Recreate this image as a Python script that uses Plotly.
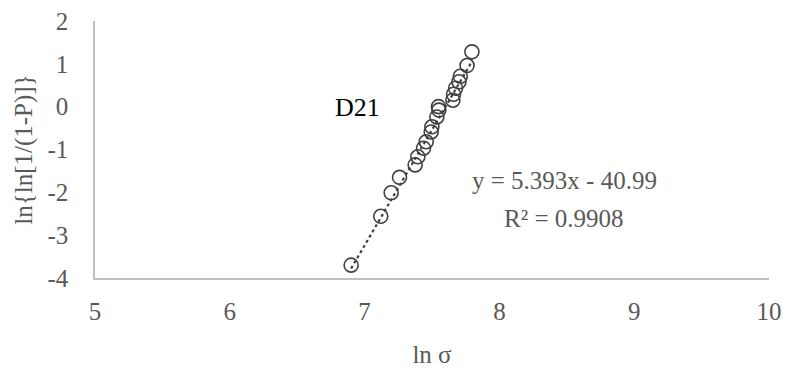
import plotly.graph_objects as go

# Data (ln sigma vs ln{ln[1/(1-P)]})
ln_sigma = [6.90, 7.12, 7.197, 7.259, 7.375, 7.395, 7.437, 7.457, 7.494, 7.499,
            7.536, 7.551, 7.548, 7.655, 7.66, 7.675, 7.70, 7.71, 7.76, 7.796]
ln_ln = [-3.70, -2.56, -2.01, -1.65, -1.36, -1.17, -0.97, -0.82, -0.59, -0.47,
         -0.24, -0.08, 0.0, 0.15, 0.29, 0.43, 0.58, 0.71, 0.96, 1.28]

slope = 5.393
intercept = -40.99
eq_text = "y = 5.393x - 40.99"
r2_text = "R² = 0.9908"
label = "D21"

x_ticks = [5, 6, 7, 8, 9, 10]
x_tick_labels = ["5", "6", "7", "8", "9", "10"]
y_ticks = [-4, -3, -2, -1, 0, 1, 2]
y_tick_labels = ["-4", "-3", "-2", "-1", "0", "1", "2"]

FONT = "Liberation Serif, Times New Roman, serif"
GRAY = "#595959"

x_fit = [min(ln_sigma), max(ln_sigma)]
y_fit = [slope * v + intercept for v in x_fit]

fig = go.Figure()
fig.add_trace(go.Scatter(
    x=x_fit, y=y_fit, mode="lines",
    line=dict(color="#404040", width=2.2, dash="dot"),
    showlegend=False, hoverinfo="skip"))
fig.add_trace(go.Scatter(
    x=ln_sigma, y=ln_ln, mode="markers",
    marker=dict(symbol="circle-open", size=14, color="#404040",
                line=dict(width=1.6, color="#404040")),
    showlegend=False))

fig.add_annotation(x=6.95, y=-0.03, text=label, showarrow=False,
                   font=dict(family=FONT, size=26, color="black"))
fig.add_annotation(x=8.48, y=-1.72, text=eq_text, showarrow=False,
                   font=dict(family=FONT, size=25, color=GRAY))
fig.add_annotation(x=8.48, y=-2.60, text=r2_text, showarrow=False,
                   font=dict(family=FONT, size=25, color=GRAY))

fig.update_layout(
    width=785, height=371,
    margin=dict(l=95, r=16, t=21, b=93),
    paper_bgcolor="white", plot_bgcolor="white",
    font=dict(family=FONT, size=25, color=GRAY),
    xaxis=dict(range=[5, 10], tickvals=x_ticks, ticktext=x_tick_labels,
               showgrid=False, zeroline=False, automargin=False,
               showline=True, linecolor="#bfbfbf", linewidth=1.5,
               ticks="", ticklabelstandoff=10,
               title=dict(text="ln σ", font=dict(family=FONT, size=25, color=GRAY), standoff=22)),
    yaxis=dict(range=[-4, 2], tickvals=y_ticks, ticktext=y_tick_labels,
               showgrid=False, zeroline=False, automargin=False,
               showline=True, linecolor="#bfbfbf", linewidth=1.5,
               ticks="", ticklabelstandoff=20,
               title=dict(text="ln{ln[1/(1-P)]}", font=dict(family=FONT, size=25, color=GRAY), standoff=8)),
)

fig.write_html("out.html")
